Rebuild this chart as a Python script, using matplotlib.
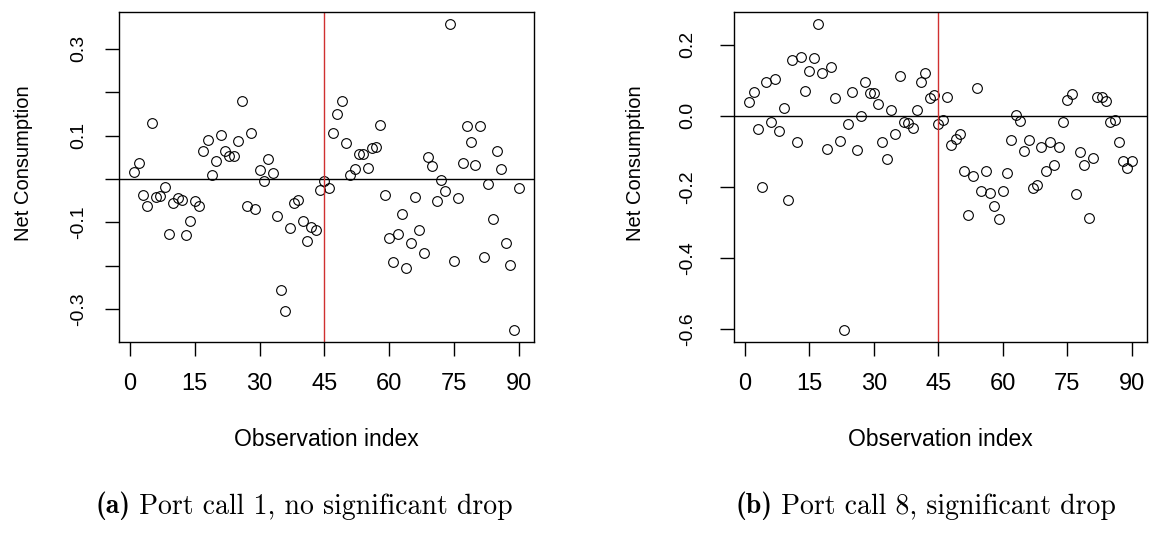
import matplotlib
matplotlib.use("Agg")
import matplotlib.pyplot as plt
from matplotlib import font_manager
import numpy as np

plt.rcParams['font.family'] = ['Liberation Sans', 'DejaVu Sans']

# port call 1 (no significant drop)
net1 = [0.017, 0.037, -0.036, -0.062, 0.129, -0.041, -0.039, -0.018, -0.127, -0.055,
        -0.045, -0.048, -0.130, -0.096, -0.051, -0.062, 0.064, 0.091, 0.009, 0.041,
        0.102, 0.064, 0.054, 0.054, 0.088, 0.180, -0.062, 0.105, -0.069, 0.020,
        -0.005, 0.047, 0.013, -0.086, -0.256, -0.304, -0.113, -0.055, -0.048, -0.096,
        -0.144, -0.112, -0.118, -0.025, -0.005, -0.022, 0.105, 0.149, 0.179, 0.082,
        0.009, 0.023, 0.058, 0.058, 0.026, 0.071, 0.074, 0.125, -0.038, -0.136,
        -0.192, -0.127, -0.082, -0.206, -0.148, -0.042, -0.118, -0.171, 0.050, 0.029,
        -0.052, -0.003, -0.028, 0.357, -0.189, -0.045, 0.037, 0.122, 0.085, 0.033,
        0.122, -0.181, -0.011, -0.092, 0.064, 0.023, -0.148, -0.199, -0.348, -0.021]

# port call 8 (significant drop)
net8 = [0.040, 0.066, -0.037, -0.199, 0.095, -0.017, 0.104, -0.042, 0.021, -0.237,
        0.157, -0.075, 0.165, 0.069, 0.125, 0.161, 0.257, 0.120, -0.092, 0.138,
        0.050, -0.070, -0.601, -0.024, 0.066, -0.095, 0.000, 0.095, 0.065, 0.065,
        0.033, -0.075, -0.122, 0.015, -0.050, 0.112, -0.017, -0.021, -0.034, 0.016,
        0.095, 0.119, 0.050, 0.058, -0.024, -0.013, 0.054, -0.083, -0.064, -0.050,
        -0.156, -0.278, -0.170, 0.079, -0.212, -0.156, -0.217, -0.254, -0.290, -0.212,
        -0.162, -0.067, 0.001, -0.014, -0.100, -0.067, -0.204, -0.195, -0.087, -0.154,
        -0.075, -0.138, -0.087, -0.017, 0.045, 0.062, -0.220, -0.103, -0.137, -0.287,
        -0.120, 0.052, 0.052, 0.042, -0.017, -0.013, -0.075, -0.128, -0.146, -0.128]

idx = np.arange(1, 91)
xticks = [0, 15, 30, 45, 60, 75, 90]
yticks1 = [-0.3, -0.2, -0.1, 0.0, 0.1, 0.2, 0.3]
ylabels1 = ["-0.3", "", "-0.1", "", "0.1", "", "0.3"]
yticks8 = [-0.6, -0.4, -0.2, 0.0, 0.2]
ylabels8 = ["-0.6", "-0.4", "-0.2", "0.0", "0.2"]
split = 45

# rotated text in the original is narrower than the horizontal text
names = {f.name for f in font_manager.fontManager.ttflist}
if 'Liberation Sans Narrow' in names:
    yfam, ytick_fs, ylab_fs = ['Liberation Sans Narrow'], 15, 16.5
else:
    yfam, ytick_fs, ylab_fs = ['Liberation Sans'], 14, 14.5

W, H = 1149, 534
fig = plt.figure(figsize=(W / 100, H / 100), dpi=100)


def panel(rect, y, yt, ytl, ypad, labx, tag, caption, capx):
    ax = fig.add_axes(rect)
    ax.plot(idx, y, 'o', mfc='none', mec='black', ms=7, mew=0.8)
    ax.axhline(0, color='black', lw=1)
    ax.axvline(split, color='#d03030', lw=1)
    lo, hi = min(y), max(y)
    pad = (hi - lo) * 0.04
    ax.set_ylim(lo - pad, hi + pad)
    ax.set_xlim(1 - 89 * 0.04, 90 + 89 * 0.04)
    ax.set_xticks(xticks)
    ax.set_xticklabels([str(t) for t in xticks], fontsize=17)
    ax.set_yticks(yt)
    ax.set_yticklabels(ytl, fontsize=ytick_fs, rotation=90, va='center',
                       family=yfam)
    ax.tick_params(axis='x', length=10, width=1, pad=12)
    ax.tick_params(axis='y', length=10, width=1, pad=ypad)
    for s in ax.spines.values():
        s.set_linewidth(1)
    ax.set_xlabel("Observation index", fontsize=16.5, labelpad=24)
    ax.set_ylabel("Net Consumption", fontsize=ylab_fs, family=yfam)
    ax.yaxis.set_label_coords(labx / (rect[2] * W), (342 - 163) / 330)
    t1 = fig.text(capx, 1 - 513 / H, tag, fontsize=20, family='cmb10',
                  ha='left', va='baseline')
    ax.annotate(" " + caption, xy=(1, 0), xycoords=t1, fontsize=20,
                family='cmr10', ha='left', va='bottom')
    return ax


panel([119 / W, 1 - 342 / H, 415 / W, 330 / H], net1, yticks1, ylabels1, 13, -86,
      "(a)", "Port call 1, no significant drop", 95 / W)
panel([734 / W, 1 - 342 / H, 413 / W, 330 / H], net8, yticks8, ylabels8, 17, -89,
      "(b)", "Port call 8, significant drop", 735 / W)

plt.savefig("out.png", dpi=100)
